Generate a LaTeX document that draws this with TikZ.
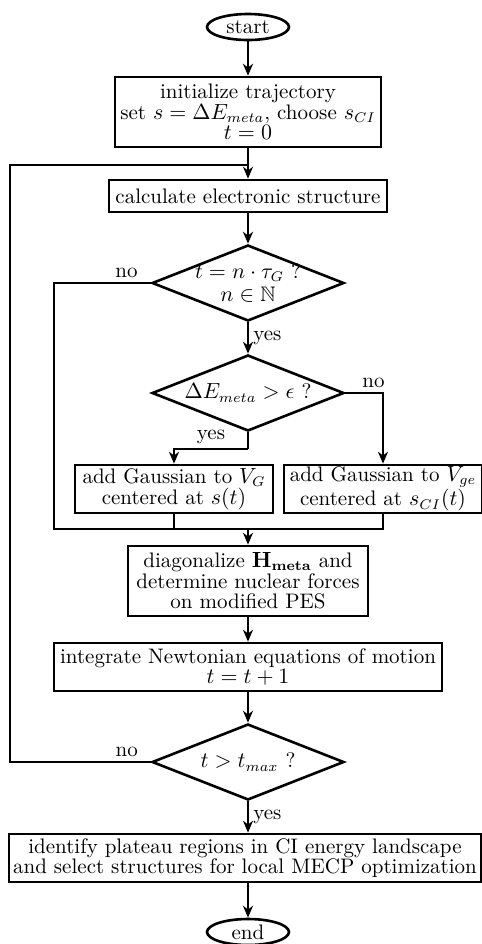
\documentclass[tikz,border=0pt]{standalone}
\usepackage{amsmath}
\usepackage{amssymb}
\usetikzlibrary{positioning,shapes.geometric,arrows.meta}
\newcommand{\fsz}{\fontsize{10.5}{10.3}\selectfont}
\tikzset{
  % --- flowchart blocks ------------------------------------------------------
  term/.style={ellipse,draw,line width=1.3pt,minimum width=41pt,
               minimum height=13pt,inner sep=0pt,font=\fsz},
  proc/.style={rectangle,draw,line width=1.3pt,align=center,inner sep=0pt,
               font=\fsz},
  decide/.style={diamond,draw,line width=1.3pt,aspect=2.5,inner sep=-4pt,
                 minimum width=96pt,minimum height=38pt,align=center,font=\fsz},
  % --- connectors ------------------------------------------------------------
  flow/.style={-{Stealth[length=6pt,width=5pt]},line width=1.3pt},
  link/.style={line width=1.3pt},
  ans/.style={font=\fsz,inner sep=2pt},
}
\begin{document}
\begin{tikzpicture}[x=0.5pt,y=-0.5pt]
  \useasboundingbox (0,0) rectangle (482,944);

  \node[term] (start) at (248,27) {start};
  \node[proc,minimum width=133pt,minimum height=35pt] (init) at (248,112)
    {initialize trajectory\\ set $s=\Delta E_{meta}$, choose $s_{CI}$\\ $t=0$};
  \node[proc,minimum width=139pt,minimum height=16pt] (elec) at (248,196)
    {calculate electronic structure};
  \node[decide] (chk1) at (248,283) {$t=n\cdot\tau_G$ ?\\[1pt] $n\in\mathbb{N}$};
  \node[decide] (chk2) at (248,393) {$\Delta E_{meta}>\epsilon$ ?};
  \node[proc,minimum width=99pt,minimum height=24pt] (addg) at (174,489)
    {add Gaussian to $V_G$\\ centered at $s(t)$};
  \node[proc,minimum width=99pt,minimum height=24pt] (addge) at (383,489)
    {add Gaussian to $V_{ge}$\\ centered at $s_{CI}(t)$};
  \node[proc,minimum width=120pt,minimum height=35pt] (diag) at (248,581)
    {diagonalize $\mathbf{H_{meta}}$ and\\ determine nuclear forces\\ on modified PES};
  \node[proc,minimum width=194pt,minimum height=24pt] (integ) at (248,667)
    {integrate Newtonian equations of motion\\ $t=t+1$};
  \node[decide] (chk3) at (248,762) {$t>t_{max}$ ?};
  \node[proc,minimum width=236pt,minimum height=24pt] (ident) at (245,858)
    {identify plateau regions in CI energy landscape\\
     and select structures for local MECP optimization};
  \node[term] (fin) at (248,932) {end};

  \coordinate (loopjoin) at (248,165);
  \coordinate (noleft)   at (54,283);
  \coordinate (split)    at (248,449);
  \coordinate (merge)    at (248,529);
  \coordinate (loopleft) at (10,762);

  \draw[flow] (start) -- (init);
  \draw[flow] (init) -- (elec);
  \draw[flow] (elec) -- (chk1);
  \draw[flow] (chk1) -- node[ans,right] {yes} (chk2);
  \draw[link] (chk1.west) -- node[ans,above,pos=0.25] {no} (noleft)
    |- (addge.south |- merge) -- (addge.south);
  \draw[flow] (chk2.east) -- node[ans,above,pos=0.75] {no} (addge.north |- chk2.east)
    -- (addge.north);
  \draw[link] (chk2.south) -- (split);
  \draw[flow] (split) -| node[ans,above,pos=0.25] {yes} (addg.north);
  \draw[link] (addg.south) -- (addg.south |- merge);
  \draw[flow] (merge) -- (diag);
  \draw[flow] (diag) -- (integ);
  \draw[flow] (integ) -- (chk3);
  \draw[flow] (chk3.south) -- node[ans,right] {yes} (chk3.south |- ident.north);
  \draw[link] (chk3.west) -- node[ans,above,pos=0.17] {no} (loopleft) |- (loopjoin);
  \draw[flow] (ident.south -| fin.north) -- (fin.north);
\end{tikzpicture}
\end{document}
